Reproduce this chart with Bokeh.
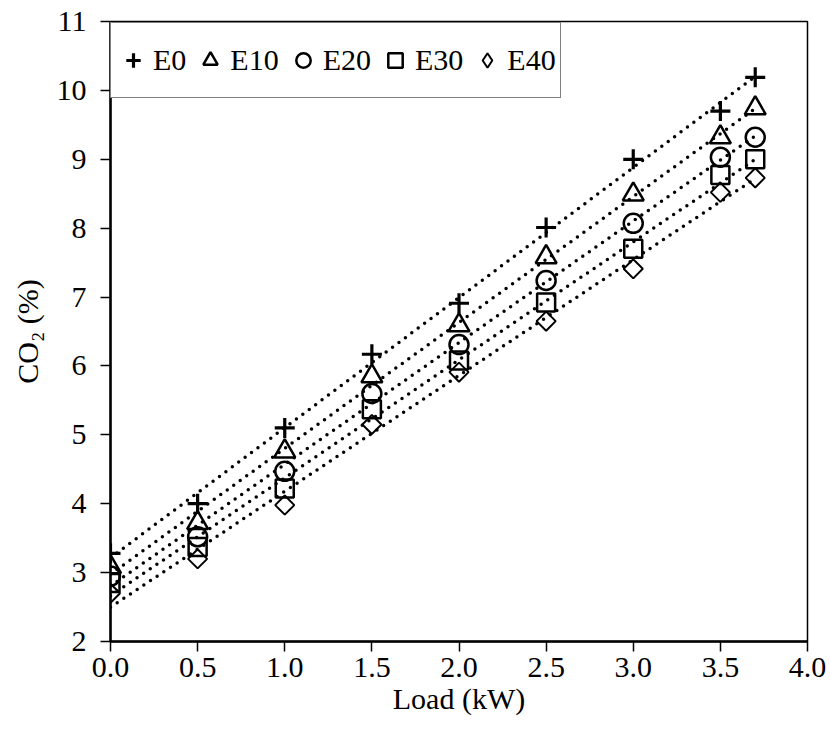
import numpy as np
from bokeh.plotting import figure
from bokeh.models import (Range1d, FixedTicker, NumeralTickFormatter, Legend,
                          LegendItem)
from bokeh.embed import file_html
from bokeh.resources import INLINE

# Engine load (kW) and CO2 concentration (%) for each ethanol blend
load = [0.0, 0.5, 1.0, 1.5, 2.0, 2.5, 3.0, 3.5, 3.7]
e0 = [3.28, 4.00, 5.10, 6.17, 6.91, 8.01, 9.00, 9.70, 10.19]
e10 = [3.08, 3.72, 4.76, 5.85, 6.59, 7.58, 8.49, 9.32, 9.74]
e20 = [2.95, 3.52, 4.47, 5.60, 6.31, 7.24, 8.07, 9.03, 9.32]
e30 = [2.85, 3.37, 4.22, 5.37, 6.08, 6.92, 7.70, 8.77, 9.00]
e40 = [2.70, 3.20, 3.98, 5.15, 5.91, 6.65, 7.41, 8.52, 8.73]

series_names = ["E0", "E10", "E20", "E30", "E40"]
series_values = [e0, e10, e20, e30, e40]

x_ticks = [0.0, 0.5, 1.0, 1.5, 2.0, 2.5, 3.0, 3.5, 4.0]
y_ticks = [2, 3, 4, 5, 6, 7, 8, 9, 10, 11]

FONT = "Liberation Serif"
FS = "30px"

p = figure(width=830, height=733, output_backend="svg", toolbar_location=None,
           x_range=Range1d(0, 4), y_range=Range1d(2, 11),
           min_border_left=110, min_border_right=23, min_border_top=21,
           min_border_bottom=92)
p.grid.visible = False
p.outline_line_color = "black"
p.outline_line_width = 1.5
p.background_fill_color = "white"
p.border_fill_color = "white"

for ax in (p.xaxis[0], p.yaxis[0]):
    ax.axis_line_width = 2.5
    ax.axis_line_color = "black"
    ax.major_tick_line_width = 1.5
    ax.major_tick_out = 10
    ax.major_tick_in = 0
    ax.minor_tick_line_color = None
    ax.major_label_text_font = FONT
    ax.major_label_text_font_size = FS
    ax.major_label_text_color = "black"
    ax.axis_label_text_font = FONT
    ax.axis_label_text_font_size = FS
    ax.axis_label_text_font_style = "normal"
    ax.axis_label_text_color = "black"

p.xaxis[0].ticker = FixedTicker(ticks=x_ticks)
p.xaxis[0].formatter = NumeralTickFormatter(format="0.0")
p.xaxis[0].axis_label = "Load (kW)"
p.xaxis[0].major_label_standoff = 6
p.xaxis[0].axis_label_standoff = 2
p.yaxis[0].ticker = FixedTicker(ticks=y_ticks)
p.yaxis[0].axis_label = "CO\u2082 (%)"
p.yaxis[0].major_label_standoff = 14
p.yaxis[0].axis_label_standoff = 10

# Linear trend lines (dotted), fitted to each blend's measurements
x_arr = np.array(load)
for vals in series_values:
    k, b = np.polyfit(x_arr, np.array(vals), 1)
    xs = np.array([load[0], load[-1]])
    p.line(xs, k * xs + b, line_color="black", line_width=3.5,
           line_dash="0 8", line_cap="round")

marker_style = [
    dict(marker="cross", size=20, line_width=3.2),
    dict(marker="triangle", size=21, line_width=2.5),
    dict(marker="circle", size=19, line_width=2.5),
    dict(marker="square", size=18, line_width=2.5),
    dict(marker="square", size=13.5, line_width=2, angle=np.pi / 4),
]
legend_markers = ["cross", "triangle", "circle", "square", "diamond"]

items = []
for name, vals, st, lm in zip(series_names, series_values, marker_style,
                              legend_markers):
    r = p.scatter(load, vals, fill_color="white", fill_alpha=0.0,
                  line_color="black", **st)
    rs = [r]
    if lm != st["marker"]:
        # upright diamond symbol used only for the legend key
        key = p.scatter([np.nan], [np.nan], marker=lm, fill_color="white",
                        line_color="black", line_width=2)
        rs = [key]
    items.append(LegendItem(label=name, renderers=rs))

# legend box sits in the top-left corner, just below the frame's top edge
legend = Legend(items=items, orientation="horizontal", location=(0, 543),
                label_text_font=FONT, label_text_font_size=FS,
                label_text_color="black", glyph_width=36, glyph_height=36,
                label_standoff=2, label_width=10, spacing=6, padding=4,
                margin=0, border_line_color="black", border_line_width=1.5,
                background_fill_color="white", background_fill_alpha=1.0,
                label_height=66)
p.add_layout(legend, "center")

open("out.html", "w").write(file_html(p, INLINE))
